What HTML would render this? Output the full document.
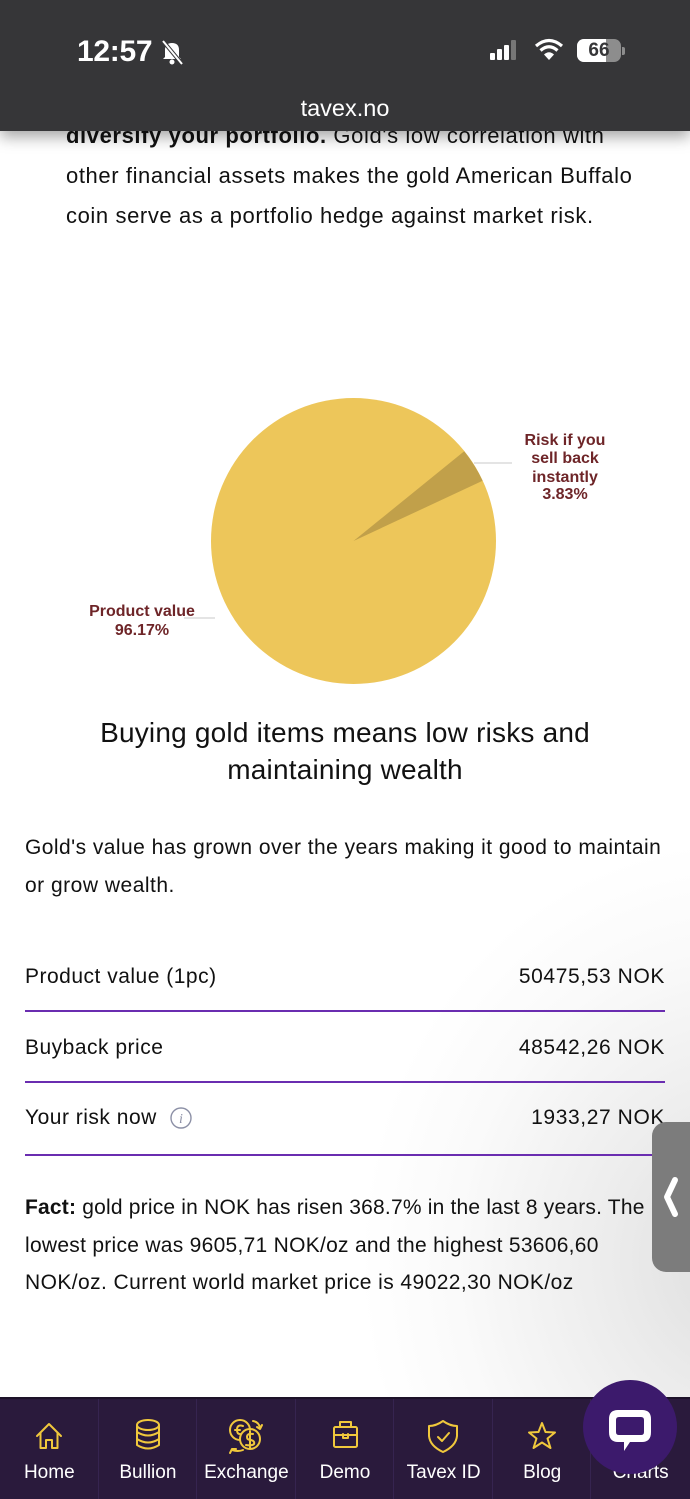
<!DOCTYPE html>
<html><head><meta charset="utf-8">
<style>
*{margin:0;padding:0;box-sizing:border-box}
html,body{width:690px;height:1499px;overflow:hidden;background:#fff}
body{position:relative;font-family:"Liberation Sans",Arial,sans-serif;color:#111}
.bg{position:absolute;left:0;top:0;width:690px;height:1499px;background:radial-gradient(ellipse 380px 420px at 740px 1260px,#dedede 0%,#ececec 35%,#fafafa 75%,#fff 100%)}
.t{position:absolute;white-space:nowrap}
.body20{font-size:21px;line-height:40px;letter-spacing:0.35px}
.intro{font-size:22px;line-height:40px;letter-spacing:0.6px}
.hdr{position:absolute;left:0;top:0;width:690px;height:131px;background:#363638;box-shadow:0 6px 14px rgba(0,0,0,0.35);z-index:5}
.pl{position:absolute;left:25px;width:640px;height:2px;background:#6a2db0}
.nav{position:absolute;left:0;top:1397px;width:690px;height:102px;background:#2a1a3c;border-top:2px solid #1d1229;z-index:6}
.col{position:absolute;top:0;height:100px;width:98.6px;border-right:1px solid #362450}
.lab{position:absolute;top:62px;width:98.6px;text-align:center;color:#fff;font-size:19px;line-height:24px}
</style></head><body>
<div class="bg"></div>

<!-- header -->
<div class="hdr">
  <div class="t" style="left:77px;top:34px;font-size:30px;font-weight:bold;color:#fff;line-height:36px;letter-spacing:-0.3px">12:57</div>
  <svg style="position:absolute;left:158px;top:38px" width="28" height="28" viewBox="0 0 28 28">
    <path d="M7 19 L7 12 Q7 5 14 5 Q21 5 21 12 L21 19 L23 21 L5 21 Z" fill="#fff"/>
    <circle cx="14" cy="24" r="2.5" fill="#fff"/>
    <line x1="5" y1="3" x2="24" y2="26" stroke="#363638" stroke-width="4"/>
    <line x1="5" y1="3" x2="24" y2="26" stroke="#fff" stroke-width="2"/>
  </svg>
  <!-- signal -->
  <div style="position:absolute;left:490px;top:53px;width:5px;height:7px;background:#fff;border-radius:1px"></div>
  <div style="position:absolute;left:497px;top:49px;width:5px;height:11px;background:#fff;border-radius:1px"></div>
  <div style="position:absolute;left:504px;top:45px;width:5px;height:15px;background:#fff;border-radius:1px"></div>
  <div style="position:absolute;left:511px;top:40px;width:5px;height:20px;background:#777;border-radius:1px"></div>
  <!-- wifi -->
  <svg style="position:absolute;left:533px;top:38px" width="32" height="24" viewBox="0 0 32 24">
    <path d="M16 22 L11 16.5 Q16 12 21 16.5 Z" fill="#fff"/>
    <path d="M7.5 12.5 Q16 5 24.5 12.5" stroke="#fff" stroke-width="3.2" fill="none"/>
    <path d="M3 8 Q16 -3 29 8" stroke="#fff" stroke-width="3.2" fill="none"/>
  </svg>
  <!-- battery -->
  <div style="position:absolute;left:577px;top:39px;width:44px;height:23px;border-radius:7px;background:#8d8d8d;overflow:hidden">
    <div style="position:absolute;left:0;top:0;width:29px;height:23px;background:#fff"></div>
    <div class="t" style="left:0;top:0;width:44px;text-align:center;font-size:19px;font-weight:bold;line-height:23px;color:#363638">66</div>
  </div>
  <div style="position:absolute;left:622px;top:47px;width:3px;height:8px;background:#8d8d8d;border-radius:0 2px 2px 0"></div>
  <div class="t" style="left:0;width:690px;text-align:center;top:94px;font-size:23.5px;color:#fff;line-height:28px">tavex.no</div>
</div>

<!-- intro text -->
<div class="t intro" style="left:66px;top:116px"><b>diversify your portfolio.</b> Gold's low correlation with</div>
<div class="t intro" style="left:66px;top:156px">other financial assets makes the gold American Buffalo</div>
<div class="t intro" style="left:66px;top:196px">coin serve as a portfolio hedge against market risk.</div>

<!-- pie -->
<svg style="position:absolute;left:0;top:380px" width="690" height="320" viewBox="0 380 690 320">
  <ellipse cx="353.5" cy="541" rx="142.5" ry="143" fill="#edc65a"/>
  <path d="M353.5 541 L482.6 480.8 A142.5 143 0 0 0 464.2 451.3 Z" fill="#c1a04a"/>
  <line x1="474" y1="463" x2="512" y2="463" stroke="#dcdcdc" stroke-width="1.5"/>
  <line x1="184" y1="618" x2="215" y2="618" stroke="#dcdcdc" stroke-width="1.5"/>
  <g font-family="Liberation Sans, Arial, sans-serif" font-weight="bold" font-size="16" fill="#6e2528" text-anchor="middle">
    <text x="565" y="445">Risk if you</text>
    <text x="565" y="463">sell back</text>
    <text x="565" y="482">instantly</text>
    <text x="565" y="499">3.83%</text>
    <text x="142" y="616">Product value</text>
    <text x="142" y="635">96.17%</text>
  </g>
</svg>

<!-- heading -->
<div class="t" style="left:0;width:690px;text-align:center;top:714px;font-size:28px;line-height:38px;letter-spacing:0.2px;color:#111">Buying gold items means low risks and</div>
<div class="t" style="left:0;width:690px;text-align:center;top:751px;font-size:28px;line-height:38px;letter-spacing:0.2px;color:#111">maintaining wealth</div>

<div class="t body20" style="left:25px;top:828px;letter-spacing:0.45px">Gold's value has grown over the years making it good to maintain</div>
<div class="t body20" style="left:25px;top:866px;letter-spacing:0.5px">or grow wealth.</div>

<!-- rows -->
<div class="t body20" style="left:25px;top:957px;letter-spacing:0.5px">Product value (1pc)</div>
<div class="t body20" style="right:25px;top:957px;letter-spacing:0.6px">50475,53 NOK</div>
<div class="pl" style="top:1010px"></div>
<div class="t body20" style="left:25px;top:1028px;letter-spacing:0.5px">Buyback price</div>
<div class="t body20" style="right:25px;top:1028px;letter-spacing:0.6px">48542,26 NOK</div>
<div class="pl" style="top:1081px"></div>
<div class="t body20" style="left:25px;top:1098px;letter-spacing:0.5px">Your risk now</div>
<svg style="position:absolute;left:169px;top:1106px" width="24" height="24" viewBox="0 0 24 24">
  <circle cx="12" cy="12" r="10" fill="none" stroke="#8c90a6" stroke-width="1.4"/>
  <text x="12" y="17" font-family="Liberation Serif, serif" font-style="italic" font-size="14" fill="#8c90a6" text-anchor="middle">i</text>
</svg>
<div class="t body20" style="right:25px;top:1098px;letter-spacing:0.6px">1933,27 NOK</div>
<div class="pl" style="top:1154px"></div>

<!-- fact -->
<div class="t body20" style="left:25px;top:1188px;letter-spacing:0.2px"><b>Fact:</b> gold price in NOK has risen 368.7% in the last 8 years. The</div>
<div class="t body20" style="left:25px;top:1226px;letter-spacing:0.28px">lowest price was 9605,71 NOK/oz and the highest 53606,60</div>
<div class="t body20" style="left:25px;top:1263px;letter-spacing:0.42px">NOK/oz. Current world market price is 49022,30 NOK/oz</div>

<!-- side tab -->
<div style="position:absolute;left:652px;top:1122px;width:60px;height:150px;background:#7c7c7c;border-radius:14px;z-index:4"></div>
<svg style="position:absolute;left:656px;top:1172px;z-index:4" width="30" height="50" viewBox="0 0 30 50">
  <polyline points="19,8 11,25 19,42" fill="none" stroke="#fff" stroke-width="6" stroke-linecap="round" stroke-linejoin="round"/>
</svg>

<!-- nav -->
<div class="nav">
  <div class="col" style="left:0"></div>
  <div class="col" style="left:98.6px"></div>
  <div class="col" style="left:197.1px"></div>
  <div class="col" style="left:295.7px"></div>
  <div class="col" style="left:394.3px"></div>
  <div class="col" style="left:492.9px"></div>
  <svg style="position:absolute;left:0;top:-1397px" width="690" height="1499" viewBox="0 0 690 1499">
    <g fill="none" stroke="#f0c83c" stroke-width="2" stroke-linecap="round" stroke-linejoin="round">
      <!-- home -->
      <path d="M37 1434 L49 1422 L61 1434"/>
      <path d="M40.5 1431 V1446 H46 V1438 H52 V1446 H57.5 V1431"/>
      <!-- bullion -->
      <ellipse cx="148" cy="1423" rx="11" ry="5"/>
      <path d="M137 1423 V1430 Q148 1437 159 1430 V1423"/>
      <path d="M137 1430 V1437 Q148 1444 159 1437 V1430"/>
      <path d="M137 1437 V1443 Q148 1450 159 1443 V1437"/>
      <!-- exchange -->
      <circle cx="240" cy="1428" r="10"/>
      <circle cx="250" cy="1437" r="10" fill="#2a1a3c"/>
      <path d="M253 1432 Q247 1431 247 1435 Q247 1438 251 1438 Q255 1439 254 1442 Q252 1444 246 1443 M250 1429 V1446"/>
      <path d="M243 1424 Q237 1422 237 1428 Q237 1432 240 1432 M235 1428 H240"/>
      <path d="M253 1419 Q259 1420 260 1426 M257 1425 L260 1427 L262 1423"/>
      <path d="M232 1448 Q238 1450 243 1448 M230 1451 L232 1447 L236 1447"/>
      <!-- demo -->
      <rect x="334" y="1425" width="23" height="20" rx="1.5"/>
      <path d="M340 1425 V1420 H351 V1425 M334 1433 H357 M343 1432 V1436 H348 V1432"/>
      <!-- tavex id -->
      <path d="M443 1419 Q450 1424 457 1424 V1434 Q456 1444 443 1450 Q430 1444 429 1434 V1424 Q436 1424 443 1419 Z"/>
      <path d="M438 1435 L442 1439 L449 1431"/>
      <!-- blog -->
      <path d="M542 1421 L545.5 1430 L555 1430.5 L547.5 1436.5 L550.5 1446 L542 1440.5 L533.5 1446 L536.5 1436.5 L529 1430.5 L538.5 1430 Z"/>
    </g>
  </svg>
  <div class="lab" style="left:0">Home</div>
  <div class="lab" style="left:98.6px">Bullion</div>
  <div class="lab" style="left:197.1px">Exchange</div>
  <div class="lab" style="left:295.7px">Demo</div>
  <div class="lab" style="left:394.3px">Tavex ID</div>
  <div class="lab" style="left:492.9px">Blog</div>
  <div class="lab" style="left:591.4px">Charts</div>
</div>

<!-- chat bubble -->
<svg style="position:absolute;left:580px;top:1378px;z-index:8" width="100" height="100" viewBox="580 1378 100 100">
  <circle cx="630" cy="1427" r="47" fill="#3c1a6c"/>
  <path d="M618 1410 H642 Q651 1410 651 1419 V1432 Q651 1442 642 1442 H630 L624 1451 V1442 H618 Q609 1442 609 1432 V1419 Q609 1410 618 1410 Z M619 1417 Q616 1417 616 1420 V1432 Q616 1435 619 1435 H641 Q644 1435 644 1432 V1420 Q644 1417 641 1417 Z" fill="#fff" fill-rule="evenodd"/>
</svg>
</body></html>
